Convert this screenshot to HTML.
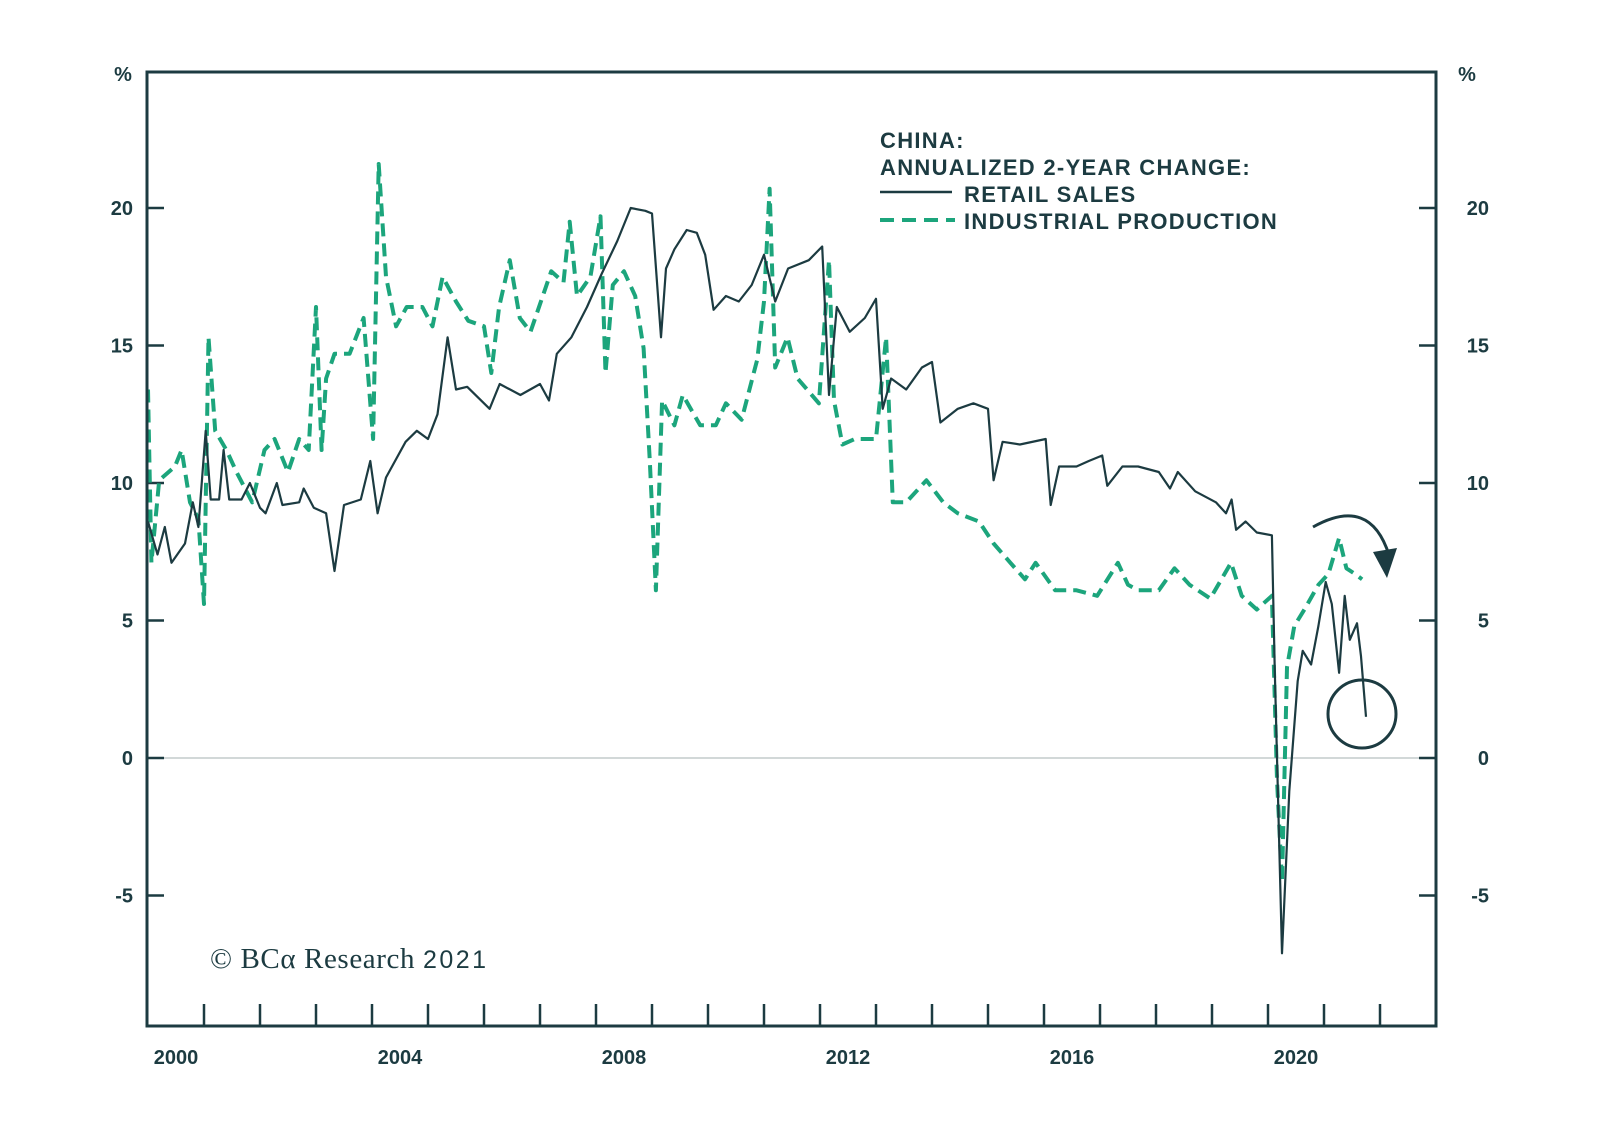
<!DOCTYPE html>
<html><head><meta charset="utf-8"><style>
html,body{margin:0;padding:0;background:#fff;}
svg{display:block;font-family:"Liberation Sans",Arial,sans-serif;}
</style></head><body>
<svg id="chart" width="1600" height="1133" viewBox="0 0 1600 1133"></svg>
<script>
const rsDates=[2000.0,2000.17,2000.3,2000.42,2000.66,2000.8,2000.9,2001.03,2001.12,2001.27,2001.35,2001.45,2001.67,2001.82,2002.0,2002.1,2002.3,2002.4,2002.7,2002.78,2002.96,2003.18,2003.33,2003.5,2003.8,2003.97,2004.1,2004.25,2004.6,2004.8,2005.0,2005.17,2005.35,2005.5,2005.7,2006.1,2006.28,2006.65,2007.0,2007.16,2007.3,2007.56,2007.84,2008.1,2008.38,2008.62,2008.88,2009.0,2009.16,2009.25,2009.4,2009.62,2009.8,2009.95,2010.1,2010.32,2010.55,2010.78,2011.0,2011.2,2011.43,2011.8,2012.04,2012.16,2012.3,2012.53,2012.8,2013.0,2013.12,2013.27,2013.54,2013.82,2014.0,2014.15,2014.46,2014.74,2015.0,2015.1,2015.26,2015.57,2016.03,2016.12,2016.27,2016.58,2016.8,2017.04,2017.13,2017.4,2017.68,2018.05,2018.25,2018.39,2018.7,2019.07,2019.25,2019.35,2019.43,2019.6,2019.8,2020.07,2020.12,2020.25,2020.38,2020.53,2020.62,2020.77,2020.9,2021.03,2021.14,2021.27,2021.37,2021.46,2021.59,2021.66,2021.75];
const rsValues=[8.6,7.4,8.4,7.1,7.8,9.3,8.4,11.9,9.4,9.4,11.2,9.4,9.4,10,9.1,8.9,10.0,9.2,9.3,9.8,9.1,8.9,6.8,9.2,9.4,10.8,8.9,10.2,11.5,11.9,11.6,12.5,15.3,13.4,13.5,12.7,13.6,13.2,13.6,13.0,14.7,15.3,16.4,17.6,18.8,20.0,19.9,19.8,15.3,17.8,18.5,19.2,19.1,18.3,16.3,16.8,16.6,17.2,18.3,16.6,17.8,18.1,18.6,13.2,16.4,15.5,16.0,16.7,12.7,13.8,13.4,14.2,14.4,12.2,12.7,12.9,12.7,10.1,11.5,11.4,11.6,9.2,10.6,10.6,10.8,11.0,9.9,10.6,10.6,10.4,9.8,10.4,9.7,9.3,8.9,9.4,8.3,8.6,8.2,8.1,3.3,-7.1,-1.2,2.8,3.9,3.4,4.8,6.4,5.6,3.1,5.9,4.3,4.9,3.7,1.5];
const ipDates=[2000.0,2000.06,2000.2,2000.48,2000.6,2000.75,2000.9,2001.0,2001.08,2001.2,2001.4,2001.58,2001.86,2002.08,2002.26,2002.5,2002.7,2002.87,2003.0,2003.1,2003.18,2003.33,2003.6,2003.85,2004.02,2004.12,2004.25,2004.43,2004.62,2004.9,2005.08,2005.26,2005.5,2005.72,2006.0,2006.13,2006.27,2006.46,2006.64,2006.83,2007.05,2007.2,2007.42,2007.53,2007.66,2007.9,2008.08,2008.17,2008.3,2008.5,2008.7,2008.85,2008.96,2009.07,2009.18,2009.4,2009.55,2009.86,2010.14,2010.32,2010.6,2010.88,2011.0,2011.1,2011.2,2011.42,2011.6,2011.98,2012.16,2012.25,2012.4,2012.62,2013.0,2013.18,2013.3,2013.54,2013.9,2014.2,2014.46,2014.84,2015.1,2015.4,2015.66,2015.85,2016.2,2016.58,2016.95,2017.32,2017.5,2017.68,2018.05,2018.33,2018.6,2018.97,2019.34,2019.53,2019.8,2020.07,2020.16,2020.25,2020.34,2020.47,2020.65,2020.9,2021.08,2021.27,2021.4,2021.55,2021.68];
const ipValues=[13.4,7.1,10.1,10.6,11.2,9.3,8.7,5.6,15.3,11.9,11.2,10.4,9.3,11.2,11.6,10.4,11.6,11.2,16.4,11.2,13.8,14.7,14.7,16.0,11.6,21.6,17.5,15.7,16.4,16.4,15.7,17.5,16.6,15.9,15.7,14.0,16.4,18.1,16.0,15.5,16.8,17.7,17.3,19.5,16.8,17.5,19.7,14.0,17.2,17.7,16.8,14.9,10.8,6.1,13.0,12.1,13.2,12.1,12.1,12.9,12.3,14.5,16.6,20.7,14.2,15.3,13.8,12.9,18.1,13.0,11.4,11.6,11.6,15.3,9.3,9.3,10.1,9.3,8.9,8.6,7.8,7.1,6.5,7.1,6.1,6.1,5.9,7.1,6.3,6.1,6.1,6.9,6.3,5.8,7.1,5.9,5.4,5.9,-0.8,-4.5,3.3,4.8,5.4,6.3,6.7,8.0,6.9,6.7,6.5];
const yTicks=[20,15,10,5,0,-5];
const yTickLabels=["20","15","10","5","0","-5"];
const xLabelYears=[2000,2004,2008,2012,2016,2020];

const svg=document.getElementById('chart');
const NS='http://www.w3.org/2000/svg';
const L=147,R=1436,T=72,B=1026;
function X(yr){return 148+56*(yr-2000);}
function Y(v){return 758-27.5*v;}
function mk(tag,attrs,parent){const e=document.createElementNS(NS,tag);for(const k in attrs)e.setAttribute(k,attrs[k]);(parent||svg).appendChild(e);return e;}
const DARK='#1c3b41',GREEN='#1ca57c';

let z=mk('line',{x1:L,x2:R,y1:Y(0),y2:Y(0),stroke:'#c4cccc','stroke-width':1.5});



yTicks.forEach((v,i)=>{
  const t1=mk('line',{x1:L,x2:L+17,y1:Y(v),y2:Y(v),stroke:DARK,'stroke-width':2.5});
  
  
  const t2=mk('line',{x1:R-17,x2:R,y1:Y(v),y2:Y(v),stroke:DARK,'stroke-width':2.5});
  
  
  const a=mk('text',{x:133,y:Y(v)+7,'text-anchor':'end','font-size':20,'font-weight':'bold',fill:DARK});
  a.textContent=yTickLabels[i];
  
  
  const b=mk('text',{x:1489,y:Y(v)+7,'text-anchor':'end','font-size':20,'font-weight':'bold',fill:DARK});
  b.textContent=yTickLabels[i];
  
  
});
for(let yr=2001;yr<=2022;yr++){
  const t=mk('line',{x1:X(yr),x2:X(yr),y1:B,y2:B-22,stroke:DARK,'stroke-width':2.5});
  
  
}
xLabelYears.forEach(yr=>{
  const t=mk('text',{x:X(yr)+28,y:1064,'text-anchor':'middle','font-size':20,'font-weight':'bold',fill:DARK});
  t.textContent=String(yr);
  
  
});
[[123,'left-unit-label'],[1467,'right-unit-label']].forEach(([x,n])=>{
  const t=mk('text',{x:x,y:81,'text-anchor':'middle','font-size':20,'font-weight':'bold',fill:DARK});
  t.textContent='%';
  
  
});

function pathFrom(ds,vs){return ds.map((d,i)=>(i?'L':'M')+X(d).toFixed(1)+' '+Y(vs[i]).toFixed(1)).join(' ');}
const ip=mk('path',{d:pathFrom(ipDates,ipValues),fill:'none',stroke:GREEN,'stroke-width':4,'stroke-dasharray':'13 7','stroke-linejoin':'round'});


const rs=mk('path',{d:pathFrom(rsDates,rsValues),fill:'none',stroke:DARK,'stroke-width':2.2,'stroke-linejoin':'round'});



const fr=mk('rect',{x:L,y:T,width:R-L,height:B-T,fill:'none',stroke:DARK,'stroke-width':3});



const lg=mk('g',{});


[['CHINA:',880,148],['ANNUALIZED 2-YEAR CHANGE:',880,175],['RETAIL SALES',964,202],['INDUSTRIAL PRODUCTION',964,229]].forEach(([s,x,y])=>{
  const t=mk('text',{x:x,y:y,'font-size':22,'font-weight':'bold',fill:DARK,'letter-spacing':1.3},lg);
  t.textContent=s;
  
  
});
const l1=mk('line',{x1:880,x2:952,y1:192,y2:192,stroke:DARK,'stroke-width':2.5},lg);


const l2=mk('line',{x1:880,x2:955,y1:220,y2:220,stroke:GREEN,'stroke-width':4,'stroke-dasharray':'14 8'},lg);



const arc=mk('path',{d:'M1313 527 Q1370 495 1389 555',fill:'none',stroke:DARK,'stroke-width':3});


const head=mk('polygon',{points:'1373,552 1397,548 1387,578',fill:DARK});


const circ=mk('ellipse',{cx:1362,cy:714,rx:34,ry:34,fill:'none',stroke:DARK,'stroke-width':3});



const cp=mk('text',{x:210,y:968,'font-size':29,fill:DARK,'font-family':'"Liberation Serif",serif','letter-spacing':0.6});


cp.innerHTML='© BCα Research <tspan font-family="Liberation Sans, sans-serif" font-size="25" letter-spacing="2.5">2021</tspan>';
</script>
</body></html>
